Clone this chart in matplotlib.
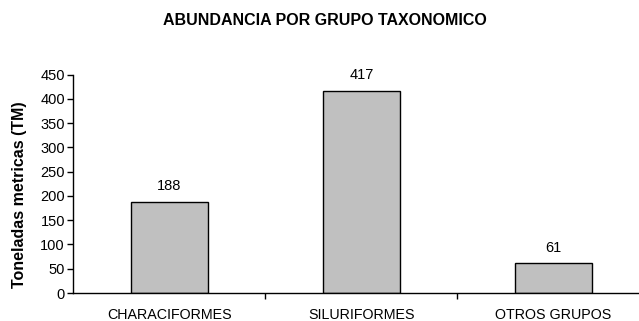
import matplotlib.pyplot as plt

categorias = ["CHARACIFORMES", "SILURIFORMES", "OTROS GRUPOS"]
toneladas = [188, 417, 61]
yticks = [0, 50, 100, 150, 200, 250, 300, 350, 400, 450]

plt.rcParams['font.family'] = ['Liberation Sans', 'DejaVu Sans']

fig = plt.figure(figsize=(6.39, 3.21), dpi=100)
ax = fig.add_axes([0.1147, 0.0872, 0.8853, 0.6804])

x = range(len(categorias))
bars = ax.bar(x, toneladas, width=0.40, color='#c0c0c0', edgecolor='black', linewidth=1.0)

for b, v in zip(bars, toneladas):
    ax.annotate(str(v), (b.get_x() + b.get_width() / 2, v), xytext=(0, 6),
                textcoords='offset points', ha='center', va='bottom', fontsize=10.5)

ax.set_xlim(-0.5, 2.446)
ax.set_ylim(0, 450)
ax.set_yticks(yticks)

# etiquetas de categoria centradas, ticks en los limites
ax.set_xticks([0.5, 1.5])
ax.set_xticklabels([])
ax.set_xticks(list(x), minor=True)
ax.set_xticklabels(categorias, minor=True, fontsize=10.3)
ax.tick_params(axis='x', which='minor', length=0, pad=11)
ax.tick_params(axis='x', which='major', length=4, direction='out', width=1)
ax.tick_params(axis='y', length=4, direction='out', width=1, labelsize=10.5, pad=2)

for s in ['top', 'right']:
    ax.spines[s].set_visible(False)
ax.spines['left'].set_linewidth(1)
ax.spines['bottom'].set_linewidth(1)

fig.text(0.031, 0.393, "Toneladas metricas (TM)", rotation=90, ha='center', va='center',
         fontsize=11.5, fontweight='bold')
fig.text(0.509, 0.935, "ABUNDANCIA POR GRUPO TAXONOMICO", ha='center', va='center',
         fontsize=11.5, fontweight='bold')

fig.savefig("out.png", dpi=100)
